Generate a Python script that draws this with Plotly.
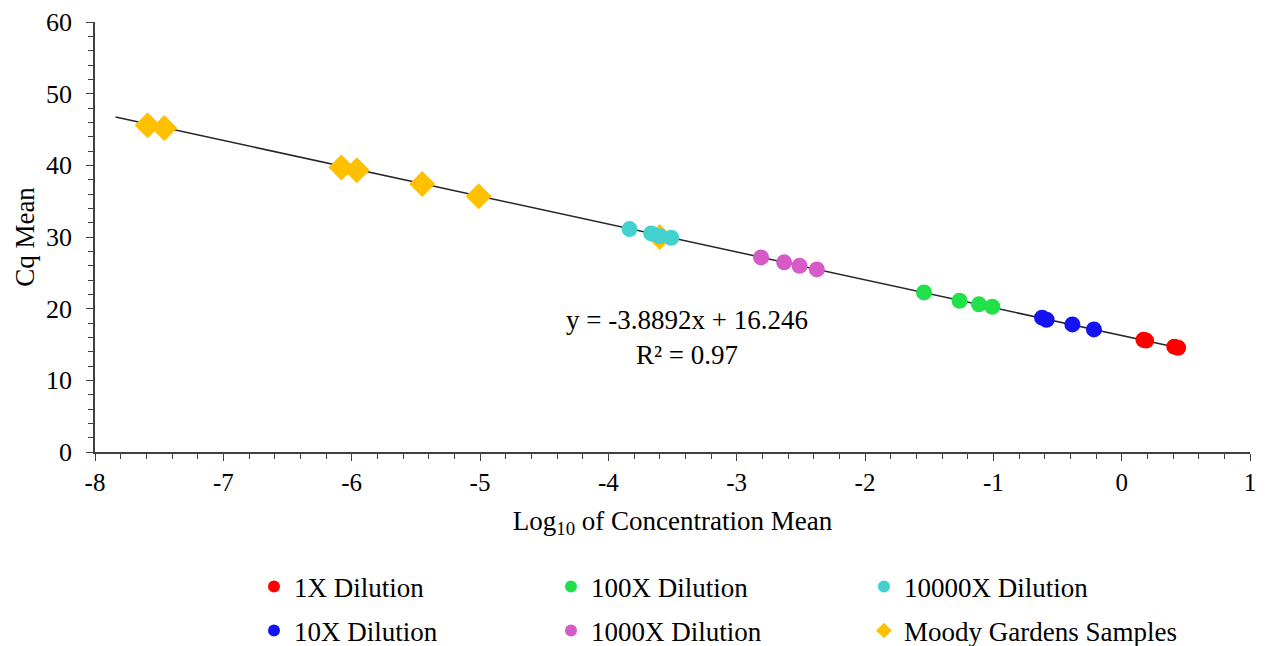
import plotly.graph_objects as go

FONT = "Liberation Serif, Times New Roman, serif"

# Data (log10 concentration mean, Cq mean)
x_1x = [0.17, 0.19, 0.41, 0.44]
y_1x = [15.65, 15.55, 14.7, 14.55]
x_10x = [-0.62, -0.585, -0.384, -0.216]
y_10x = [18.75, 18.45, 17.8, 17.1]
x_100x = [-1.54, -1.263, -1.112, -1.008]
y_100x = [22.27, 21.1, 20.6, 20.27]
x_1000x = [-2.81, -2.63, -2.51, -2.375]
y_1000x = [27.15, 26.46, 25.98, 25.48]
x_10000x = [-3.835, -3.666, -3.60, -3.51]
y_10000x = [31.1, 30.5, 30.1, 29.9]
x_moody = [-7.59, -7.46, -6.08, -5.96, -5.45, -5.01, -3.60]
y_moody = [45.6, 45.2, 39.7, 39.3, 37.4, 35.7, 30.0]

slope = -3.8892
intercept = 16.246
r2 = 0.97
trend_x = [-7.84, 0.44]

x_ticks = [-8, -7, -6, -5, -4, -3, -2, -1, 0, 1]
y_ticks = [0, 10, 20, 30, 40, 50, 60]

W, H = 1257, 638  # page body adds an 8px offset

fig = go.Figure()

# trendline
fig.add_trace(go.Scatter(x=trend_x, y=[slope * v + intercept for v in trend_x],
                         mode="lines", line=dict(color="#262626", width=1.5),
                         showlegend=False, hoverinfo="skip"))

def circ(name, xs, ys, color, legend):
    return go.Scatter(x=xs, y=ys, mode="markers", name=name,
                      marker=dict(symbol="circle", size=16, color=color),
                      legend=legend)

fig.add_trace(go.Scatter(x=x_moody, y=y_moody, mode="markers", name="Moody Gardens Samples",
                         marker=dict(symbol="diamond", size=20, color="#FFC000"),
                         legend="legend6"))
fig.add_trace(circ("1X Dilution", x_1x, y_1x, "#FF0000", "legend"))
fig.add_trace(circ("10X Dilution", x_10x, y_10x, "#1414F0", "legend4"))
fig.add_trace(circ("100X Dilution", x_100x, y_100x, "#22E04A", "legend2"))
fig.add_trace(circ("1000X Dilution", x_1000x, y_1000x, "#D65AC8", "legend5"))
fig.add_trace(circ("10000X Dilution", x_10000x, y_10000x, "#45D0D0", "legend3"))

fig.add_annotation(x=-3.39, y=16.0, xref="x", yref="y",
                   text=f"y = {slope}x + {intercept}<br>R² = {r2}",
                   showarrow=False, font=dict(family=FONT, size=27, color="black"),
                   align="center")

axis_common = dict(showgrid=False, zeroline=False, showline=True, linecolor="#404040",
                   linewidth=1.5, ticks="outside", ticklen=7, tickwidth=1.2, automargin=False,
                   tickcolor="#404040")

fig.update_xaxes(range=[-8, 1], tickvals=x_ticks, ticktext=[str(v) for v in x_ticks],
                 tickfont=dict(family=FONT, size=25, color="black"),
                 minor=dict(dtick=0.2, tick0=0, ticks="outside", ticklen=5, tickcolor="#404040", tickwidth=1),
                 title=dict(text="Log<sub>10</sub> of Concentration Mean",
                            font=dict(family=FONT, size=27, color="black"), standoff=16),
                 **axis_common)
fig.update_yaxes(range=[0, 60], tickvals=y_ticks, ticktext=[str(v) for v in y_ticks],
                 tickfont=dict(family=FONT, size=26, color="black"), ticklabelstandoff=9,
                 minor=dict(dtick=2, tick0=0, ticks="outside", ticklen=5, tickcolor="#404040", tickwidth=1),
                 title=dict(text="Cq Mean", font=dict(family=FONT, size=27, color="black"), standoff=4),
                 **axis_common)

leg_common = dict(orientation="h", xanchor="left", yanchor="middle",
                  xref="container", yref="container",
                  font=dict(family=FONT, size=27, color="black"),
                  itemsizing="constant", bgcolor="rgba(0,0,0,0)")

# text start positions (page px) for the three legend columns, and the two row centres
col_text = [295, 592, 905]
row_y = [587, 631]

legends = {}
names = ["legend", "legend2", "legend3", "legend4", "legend5", "legend6"]
for i, nm in enumerate(names):
    r, c = divmod(i, 3)
    legends[nm] = dict(x=(col_text[c] - 49) / W, y=(H - (row_y[r] - 8)) / H, **leg_common)

fig.update_layout(
    width=W, height=H,
    margin=dict(l=87, r=15, t=14, b=194),
    plot_bgcolor="white", paper_bgcolor="white",
    **legends,
)

fig.write_html("out.html")
